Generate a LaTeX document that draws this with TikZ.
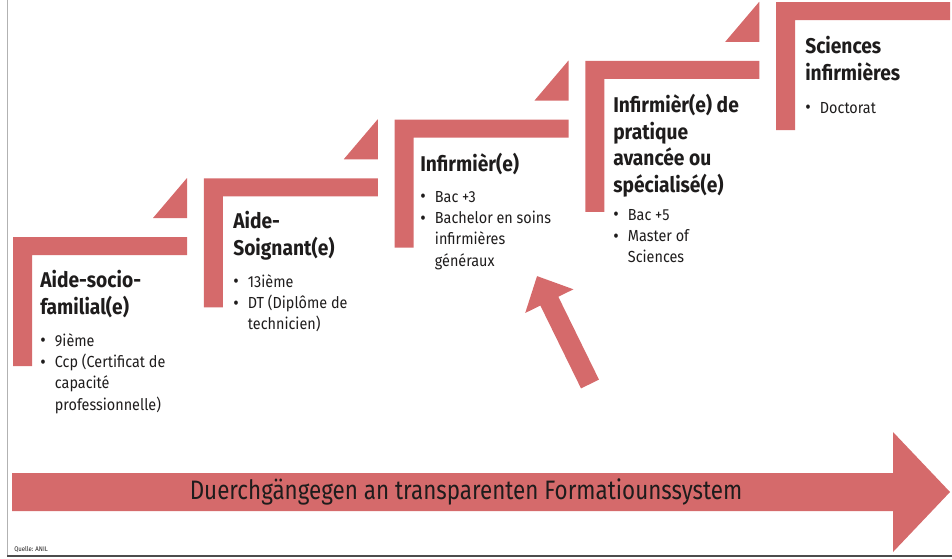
\documentclass[tikz,border=0pt]{standalone}
\usepackage{fontspec}
\setmainfont{Fira Sans}[FakeStretch=0.9]
\newfontfamily\bandfont{Fira Sans}[FakeStretch=0.84]
\usetikzlibrary{positioning,arrows.meta}
\definecolor{stufrot}{RGB}{213,106,107}
\definecolor{schrift}{RGB}{30,28,28}
\newcommand{\pkt}{\makebox[11pt][l]{\raisebox{-0.5pt}{\fontsize{14}{16}\selectfont •}}}
\newcommand{\weiter}{\hspace*{11pt}}

\begin{document}
\begin{tikzpicture}[x=0.75pt, y=-0.75pt,
  stufe/.style={fill=stufrot, draw=none},
  titel/.style={anchor=north west, inner sep=0pt, align=left, text=schrift,
    font=\bfseries\fontsize{16}{20}\selectfont,
    execute at begin node=\strut, execute at end node=\strut},
  punkte/.style={anchor=north west, inner sep=0pt, align=left, text=schrift,
    font=\fontsize{12}{16}\selectfont,
    execute at begin node=\strut, execute at end node=\strut}
  ]
\useasboundingbox (0,0) rectangle (952,558);

% rahmen
\draw[gray!60, line width=0.75pt] (7,0) -- (7,556);
\draw[gray!60!black, line width=1.2pt] (7,556) -- (952,556);

% treppe
\foreach \i/\h in {0/129,1/129,2/128,3/151,4/128} {
  \pgfmathsetmacro\xl{13+190.75*\i}
  \pgfmathsetmacro\yt{237-58.75*\i}
  \fill[stufe] (\xl,\yt) -- ++(174,0) -- ++(0,18) -- ++(-155,0)
    -- ++(0,\h-18) -- ++(-19,0) -- cycle;
  \ifnum\i<4
    \fill[stufe] (\xl+174,\yt-59) -- (\xl+174,\yt-19) -- (\xl+140,\yt-19) -- cycle;
  \fi
}

% texte
\node[titel] (t1) at (40,270) {Aide-socio-\\familial(e)};
\node[below=8pt of t1.south west, punkte] (p1) {\pkt 9ième\\\pkt Ccp (Certificat de\\\weiter capacité\\\weiter professionnelle)};

\node[titel] (t2) at (233,211) {Aide-\\Soignant(e)};
\node[below=8pt of t2.south west, punkte] (p2) {\pkt 13ième\\\pkt DT (Diplôme de\\\weiter technicien)};

\node[titel] (t3) at (420,153) {Infirmièr(e)};
\node[below=8pt of t3.south west, punkte] (p3) {\pkt Bac +3\\\pkt Bachelor en soins\\\weiter infirmières\\\weiter généraux};

\node[titel] (t4) at (613,94) {Infirmièr(e) de\\pratique\\avancée ou\\spécialisé(e)};
\node[below=6pt of t4.south west, punkte] (p4) {\pkt Bac +5\\\pkt Master of\\\weiter Sciences};

\node[titel] (t5) at (805,36) {Sciences\\infirmières};
\node[below=7pt of t5.south west, punkte] (p5) {\pkt Doctorat};

% pfeil nach oben
\coordinate (fuss) at (590,384);
\coordinate (spitze) at (537,276);
\draw[stufrot, line width=15pt, -{Triangle[length=21pt, width=39pt]}] (fuss) -- (spitze);

% grosser pfeil
\fill[stufe] (12,473) -- (893,473) -- (893,432) -- (950,492) -- (893,552)
  -- (893,511) -- (12,511) -- cycle;
\node[font=\bandfont\fontsize{20}{24}\selectfont, text=schrift] (band) at (466,492)
  {Duerchgängegen an transparenten Formatiounssystem};

\node[anchor=base west, inner sep=0pt, font=\fontsize{5}{6}\selectfont, text=schrift]
  (quelle) at (14,551) {Quelle: ANIL};
\end{tikzpicture}
\end{document}
